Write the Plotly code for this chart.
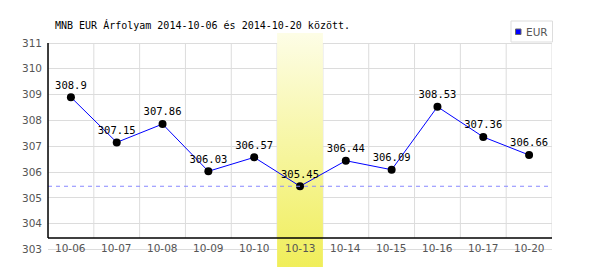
import plotly.graph_objects as go

dates = ["10-06", "10-07", "10-08", "10-09", "10-10", "10-13", "10-14", "10-15", "10-16", "10-17", "10-20"]
values = [308.9, 307.15, 307.86, 306.03, 306.57, 305.45, 306.44, 306.09, 308.53, 307.36, 306.66]
value_labels = ["308.9", "307.15", "307.86", "306.03", "306.57", "305.45", "306.44", "306.09", "308.53", "307.36", "306.66"]
y_ticks = [303, 304, 305, 306, 307, 308, 309, 310, 311]
series_name = "EUR"
highlight_date = "10-13"
title_text = "MNB EUR Árfolyam 2014-10-06 és 2014-10-20 között."

W, H = 600, 270
L, R, T, B = 48, 48, 33, 3
PW, PH = W - L - R, H - T - B

# pixel helpers (layout only)
def xp(px):
    return (px - L) / PW

def yp(py):
    return (H - B - py) / PH

y_top_px, y_bot_px = 43.0, 249.5
upp = (y_tick_max := max(y_ticks)) - min(y_ticks)
px_per_unit = (y_bot_px - y_top_px) / upp
y_hi = max(y_ticks) + (y_top_px - T) / px_per_unit
y_lo = min(y_ticks) - ((H - B) - y_bot_px) / px_per_unit
axis_y = min(y_ticks) + (y_bot_px - 238) / px_per_unit

xs = list(range(len(dates)))
hi = dates.index(highlight_date)

fig = go.Figure()

# highlight band with vertical gradient
fig.add_trace(go.Scatter(
    x=[hi - 0.5, hi + 0.5, hi + 0.5, hi - 0.5, hi - 0.5],
    y=[y_lo, y_lo, y_hi, y_hi, y_lo],
    mode="lines", line=dict(width=0), fill="toself",
    fillgradient=dict(type="vertical", colorscale=[[0, "#f0ee5a"], [1, "#fdfde6"]],
                      start=y_lo, stop=y_hi),
    hoverinfo="skip", showlegend=False,
))

fig.add_trace(go.Scatter(
    x=xs, y=values, mode="lines+markers+text",
    line=dict(color="#0000ff", width=1),
    marker=dict(color="#000000", size=8),
    text=value_labels, textposition="top center",
    textfont=dict(family="DejaVu Sans Mono", size=10.5, color="#000000"),
    cliponaxis=False, showlegend=False, name=series_name,
))

shapes = []
# vertical grid lines at category boundaries
for k in range(len(dates) + 1):
    shapes.append(dict(type="line", xref="x", yref="y", x0=k - 0.5, x1=k - 0.5,
                       y0=axis_y, y1=max(y_ticks), line=dict(color="#dcdcdc", width=1), layer="below"))
# min dashed line
shapes.append(dict(type="line", xref="paper", yref="y", x0=0, x1=1, y0=min(values), y1=min(values),
                   line=dict(color="#8888ff", width=1, dash="4px,4px"), layer="above"))
# axis lines
shapes.append(dict(type="line", xref="paper", yref="y", x0=0, x1=1, y0=axis_y, y1=axis_y,
                   line=dict(color="#000000", width=1.5), layer="above"))
shapes.append(dict(type="line", xref="paper", yref="y", x0=0, x1=0, y0=axis_y, y1=max(y_ticks),
                   line=dict(color="#000000", width=1.5), layer="above"))
# legend box
shapes.append(dict(type="rect", xref="paper", yref="paper", x0=xp(511), x1=xp(552.5), y0=yp(42), y1=yp(21),
                   line=dict(color="#dddddd", width=1), fillcolor="#ffffff", layer="above"))
shapes.append(dict(type="rect", xref="paper", yref="paper", x0=xp(515.5), x1=xp(521), y0=yp(34.5), y1=yp(29),
                   line=dict(color="#666666", width=1), fillcolor="#0000ff", layer="above"))

annotations = []
for i, d in enumerate(dates):
    annotations.append(dict(x=i, y=min(y_ticks), xref="x", yref="y", text=d, showarrow=False,
                            yshift=2, font=dict(family="DejaVu Sans", size=10.5, color="#555555"),
                            xanchor="center", yanchor="middle", bgcolor="rgba(0,0,0,0)"))
annotations.append(dict(x=xp(53), y=yp(25), xref="paper", yref="paper", text=title_text, showarrow=False,
                        xanchor="left", yanchor="middle",
                        font=dict(family="DejaVu Sans Mono", size=10, color="#000000")))
annotations.append(dict(x=xp(523.5), y=yp(32), xref="paper", yref="paper", text=series_name, showarrow=False,
                        xanchor="left", yanchor="middle",
                        font=dict(family="DejaVu Sans", size=10.5, color="#555555")))

fig.update_layout(
    width=W, height=H,
    margin=dict(l=L, r=R, t=T, b=B, pad=0),
    paper_bgcolor="#ffffff", plot_bgcolor="#ffffff",
    showlegend=False,
    xaxis=dict(range=[-0.5, len(dates) - 0.5], showgrid=False, zeroline=False,
               showticklabels=False, showline=False, fixedrange=True),
    yaxis=dict(range=[y_lo, y_hi], tickvals=y_ticks, ticktext=[str(v) for v in y_ticks],
               showgrid=True, gridcolor="#dcdcdc", gridwidth=1, zeroline=False,
               showline=False, ticks="", ticklabelstandoff=5,
               tickfont=dict(family="DejaVu Sans", size=10.5, color="#555555")),
    shapes=shapes, annotations=annotations,
)

fig.write_html("out.html")
